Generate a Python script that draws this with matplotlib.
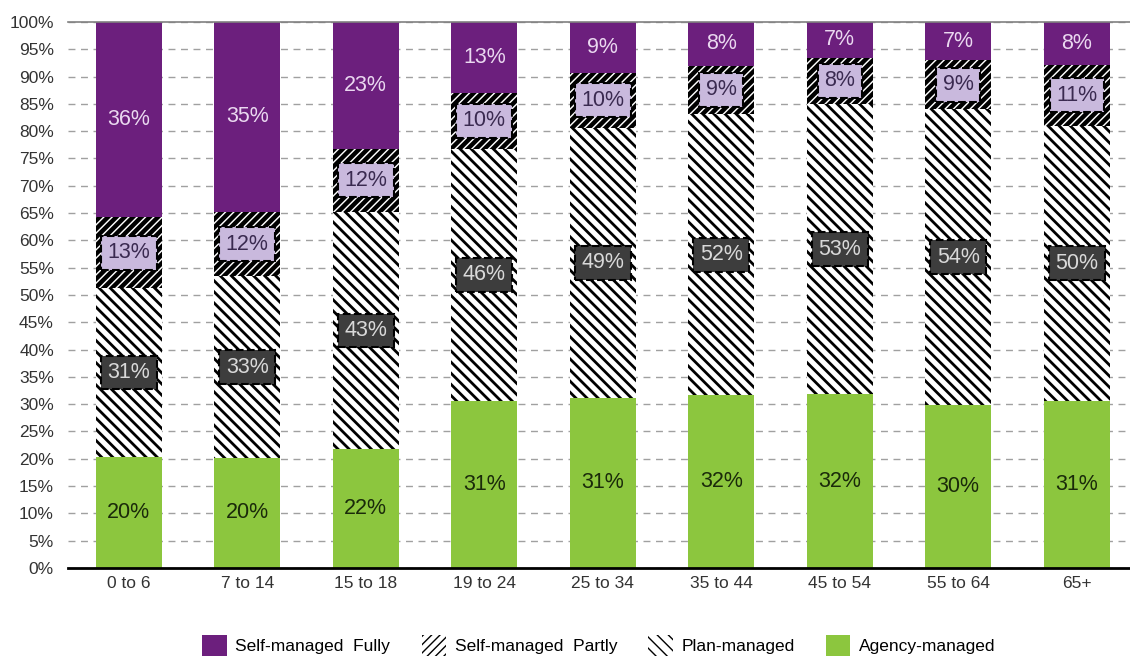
import numpy as np
import matplotlib
matplotlib.use('Agg')
from matplotlib import pyplot as plt

plt.rcParams['font.family'] = ['Liberation Sans', 'DejaVu Sans']

# data
age_groups = ['0 to 6', '7 to 14', '15 to 18', '19 to 24', '25 to 34',
              '35 to 44', '45 to 54', '55 to 64', '65+']
agency = [20.4, 20.2, 21.8, 30.6, 31.2, 31.6, 31.8, 29.8, 30.6]
plan = [30.8, 33.2, 43.4, 46.2, 49.4, 51.6, 53.2, 54.2, 50.4]
partly = [13.0, 11.8, 11.6, 10.2, 10.1, 8.8, 8.4, 9.0, 11.2]
fully = [35.8, 34.8, 23.2, 13.0, 9.3, 8.0, 6.6, 7.0, 7.8]
legend_names = ['Self-managed  Fully', 'Self-managed  Partly', 'Plan-managed', 'Agency-managed']

purple = '#6c1f7d'
green = '#8cc63e'
lilac = '#c9b9dd'
dark = '#3d3d3d'

fig = plt.figure(figsize=(11.3, 6.6), dpi=100)
ax = fig.add_axes([0.06, 0.1394, 0.94, 0.8273])

x = np.arange(len(age_groups))
w = 0.56
agency = np.array(agency)
plan = np.array(plan)
partly = np.array(partly)
fully = np.array(fully)

b_agency = ax.bar(x, agency, w, color=green, linewidth=0, zorder=2)
b_plan = ax.bar(x, plan, w, bottom=agency, color='white', edgecolor='black',
                hatch='\\\\\\', linewidth=0, zorder=2)
b_partly = ax.bar(x, partly, w, bottom=agency + plan, color='white', edgecolor='black',
                  hatch='////', linewidth=0, zorder=2)
b_fully = ax.bar(x, fully, w, bottom=agency + plan + partly, color=purple,
                 linewidth=0, zorder=2)

for p in b_plan:
    if hasattr(p, 'set_hatch_linewidth'):
        p.set_hatch_linewidth(2.0)
for p in b_partly:
    if hasattr(p, 'set_hatch_linewidth'):
        p.set_hatch_linewidth(3.2)

# labels
for i in range(len(x)):
    ax.text(x[i], agency[i] / 2, f'{agency[i]:.0f}%', ha='center', va='center',
            fontsize=15.5, color='#1a2a0a', zorder=5)
    ax.text(x[i], agency[i] + plan[i] / 2, f'{plan[i]:.0f}%', ha='center', va='center',
            fontsize=15.5, color='#d9d9d9', zorder=5,
            bbox=dict(boxstyle='square,pad=0.3', fc=dark, ec='black', lw=1.5, ls='--'))
    ax.text(x[i], agency[i] + plan[i] + partly[i] / 2, f'{partly[i]:.0f}%', ha='center',
            va='center', fontsize=15.5, color='#3a2a50', zorder=5,
            bbox=dict(boxstyle='square,pad=0.3', fc=lilac, ec='black', lw=1.5, ls='--'))
    ax.text(x[i], agency[i] + plan[i] + partly[i] + fully[i] / 2, f'{fully[i]:.0f}%',
            ha='center', va='center', fontsize=15.5, color='#ead8f0', zorder=5)

ax.set_xlim(-0.515, 8.45)
ax.set_ylim(0, 100)
ax.set_yticks(np.arange(0, 101, 5))
ax.set_yticklabels([f'{v}%' for v in range(0, 101, 5)], fontsize=12.5, color='#333333')
ax.set_xticks(x)
ax.set_xticklabels(age_groups, fontsize=12.5, color='#333333')
ax.tick_params(length=0, pad=6)
ax.tick_params(axis='y', pad=10)

ax.yaxis.grid(True, linestyle=(0, (5, 4)), color='#a0a0a0', linewidth=1, zorder=0)
ax.set_axisbelow(True)
for s in ['left', 'right']:
    ax.spines[s].set_visible(False)
ax.spines['top'].set_color('#808080')
ax.spines['top'].set_linewidth(1.2)
ax.spines['bottom'].set_color('black')
ax.spines['bottom'].set_linewidth(2)

handles = [b_fully[0], b_partly[0], b_plan[0], b_agency[0]]
fig.legend(handles, legend_names, loc='center', bbox_to_anchor=(0.53, 0.022),
           ncol=4, frameon=False, fontsize=12.5, handlelength=1.4, handleheight=1.4,
           columnspacing=1.8, handletextpad=0.5)

fig.savefig('out.png', dpi=100)
